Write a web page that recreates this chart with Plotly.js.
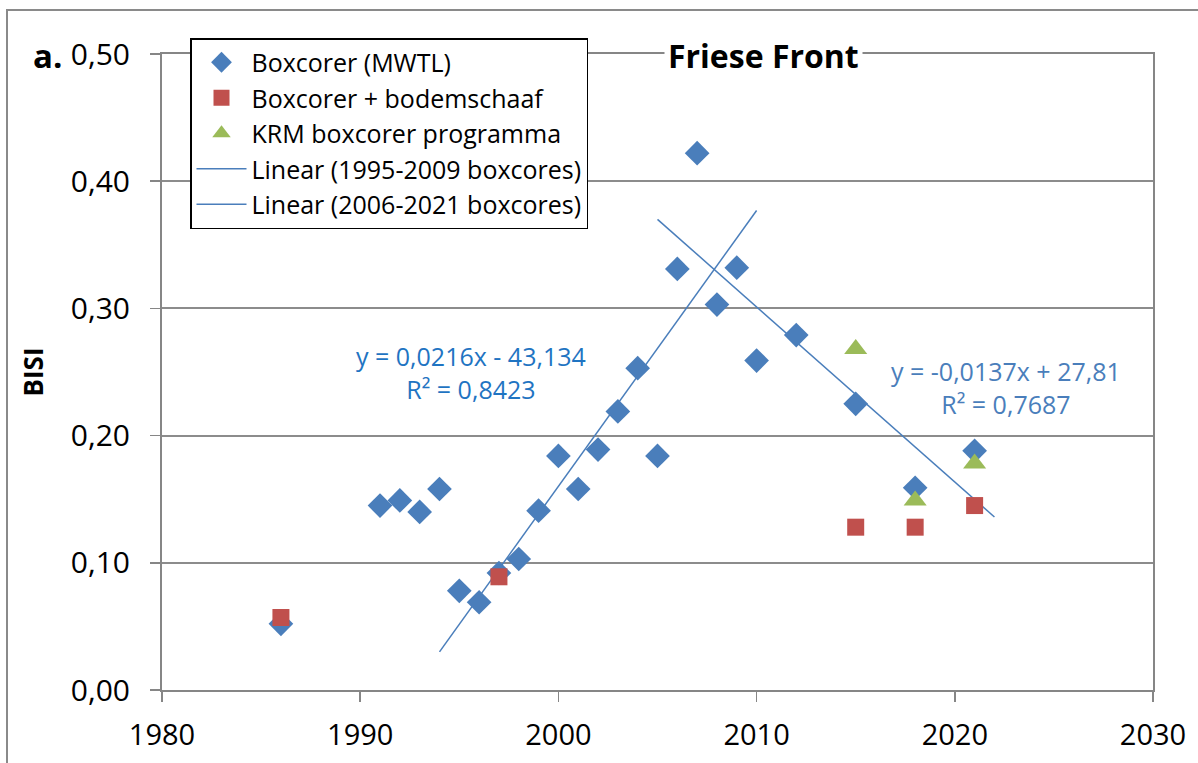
<!DOCTYPE html>
<html>
<head>
<meta charset="utf-8">
<script src="https://cdn.plot.ly/plotly-3.0.1.min.js"></script>
<style>
html,body{margin:0;padding:0;background:#fff;}
#chart{width:1198px;height:763px;}
</style>
</head>
<body>
<div id="chart"></div>
<script>
// Boxcorer (MWTL)
const mwtlYears = [1986, 1991, 1992, 1993, 1994, 1995, 1996, 1997, 1998, 1999, 2000, 2001, 2002, 2003, 2004, 2005, 2006, 2007, 2008, 2009, 2010, 2012, 2015, 2018, 2021];
const mwtlBisi  = [0.052, 0.145, 0.149, 0.140, 0.158, 0.078, 0.069, 0.092, 0.103, 0.141, 0.184, 0.158, 0.189, 0.219, 0.253, 0.184, 0.331, 0.422, 0.303, 0.332, 0.259, 0.279, 0.225, 0.159, 0.188];
// Boxcorer + bodemschaaf
const bodemYears = [1986, 1997, 2015, 2018, 2021];
const bodemBisi  = [0.057, 0.089, 0.128, 0.128, 0.145];
// KRM boxcorer programma
const krmYears = [2015, 2018, 2021];
const krmBisi  = [0.268, 0.149, 0.178];
// Trendlines (end points)
const trend1Years = [1994, 2010];
const trend1Bisi  = [0.030, 0.377];
const trend2Years = [2005, 2022];
const trend2Bisi  = [0.370, 0.136];
// Labels
const seriesNames = ["Boxcorer (MWTL)", "Boxcorer + bodemschaaf", "KRM boxcorer programma", "Linear (1995-2009 boxcores)", "Linear (2006-2021 boxcores)"];
const eq1 = ["y = 0,0216x - 43,134", "R² = 0,8423"];
const eq2 = ["y = -0,0137x + 27,81", "R² = 0,7687"];
const chartTitle = "Friese Front";
const panelLabel = "a.";
const yTitle = "BISI";
const xTicks = [1980, 1990, 2000, 2010, 2020, 2030];
const yTicks = [0, 0.1, 0.2, 0.3, 0.4, 0.5];

const BLUE = "#4A7EBB", RED = "#C0504D", GREEN = "#9BBB59";
const FONT = "Open Sans, sans-serif";

const traces = [
  {x: trend1Years, y: trend1Bisi, mode: "lines", type: "scatter", name: seriesNames[3], legendrank: 4,
   line: {color: BLUE, width: 1.5}},
  {x: trend2Years, y: trend2Bisi, mode: "lines", type: "scatter", name: seriesNames[4], legendrank: 5,
   line: {color: BLUE, width: 1.5}},
  {x: mwtlYears, y: mwtlBisi, mode: "markers", type: "scatter", name: seriesNames[0], legendrank: 1,
   marker: {symbol: "diamond", size: 19, color: BLUE}},
  {x: bodemYears, y: bodemBisi, mode: "markers", type: "scatter", name: seriesNames[1], legendrank: 2,
   marker: {symbol: "square", size: 17, color: RED}},
  {x: krmYears, y: krmBisi, mode: "markers", type: "scatter", name: seriesNames[2], legendrank: 3,
   marker: {symbol: "triangle-up", size: 20, color: GREEN}}
];

const L = 162, R = 45, T = 54, B = 73;
const W = 1198, H = 763;
const pw = W - L - R, ph = H - T - B;
function px(xp){ return (xp - L) / pw; }
function py(yp){ return (H - B - yp) / ph; }

const layout = {
  width: W, height: H,
  margin: {l: L, r: R, t: T, b: B, pad: 0},
  paper_bgcolor: "#fff", plot_bgcolor: "#fff",
  separators: ",.",
  font: {family: FONT, color: "#000"},
  showlegend: true,
  legend: {
    x: px(190), y: py(38), xanchor: "left", yanchor: "top",
    bgcolor: "#fff", bordercolor: "#000", borderwidth: 1.5,
    font: {family: FONT, size: 25, color: "#000"},
    tracegroupgap: 0, itemwidth: 50
  },
  xaxis: {
    range: [1980, 2030], tickvals: xTicks, tickformat: "d",
    showgrid: false, zeroline: false,
    showline: true, linecolor: "#868686", linewidth: 2, mirror: true,
    ticks: "outside", ticklen: 10, tickwidth: 1.5, tickcolor: "#868686",
    ticklabelstandoff: 8,
    tickfont: {family: FONT, size: 29, color: "#000"}
  },
  yaxis: {
    range: [0, 0.5], tickvals: yTicks, tickformat: ".2f",
    showgrid: true, gridcolor: "#8c8c8c", gridwidth: 2,
    zeroline: false,
    showline: true, linecolor: "#868686", linewidth: 2, mirror: true,
    ticks: "outside", ticklen: 10, tickwidth: 1.5, tickcolor: "#868686",
    ticklabelstandoff: 14,
    tickfont: {family: FONT, size: 30, color: "#000"},
    title: {text: "<b>" + yTitle + "</b>", font: {family: FONT, size: 26, color: "#000"}, standoff: 20}
  },
  annotations: [
    {xref: "paper", yref: "paper", x: px(763), y: py(55), xanchor: "center", yanchor: "middle",
     text: "<b>" + chartTitle + "</b>", showarrow: false, bgcolor: "#fff", borderpad: 3,
     font: {family: FONT, size: 32, color: "#000"}},
    {xref: "paper", yref: "paper", x: px(64), y: py(55), xanchor: "right", yanchor: "middle",
     text: "<b>" + panelLabel + "</b>", showarrow: false,
     font: {family: FONT, size: 33, color: "#000"}},
    {xref: "paper", yref: "paper", x: px(471), y: py(372), xanchor: "center", yanchor: "middle",
     text: eq1[0] + "<br>" + eq1[1], showarrow: false, align: "center",
     font: {family: FONT, size: 25, color: "#1F74C2"}},
    {xref: "paper", yref: "paper", x: px(1006), y: py(387), xanchor: "center", yanchor: "middle",
     text: eq2[0] + "<br>" + eq2[1], showarrow: false, align: "center",
     font: {family: FONT, size: 25, color: "#4A7EBB"}}
  ],
  shapes: [
    {type: "rect", xref: "paper", yref: "paper", layer: "below",
     x0: px(7), x1: px(1210), y0: py(780), y1: py(10),
     line: {color: "#8a8a8a", width: 2}, fillcolor: "rgba(0,0,0,0)"}
  ]
};

Plotly.newPlot("chart", traces, layout, {displayModeBar: false, staticPlot: true});
</script>
</body>
</html>
